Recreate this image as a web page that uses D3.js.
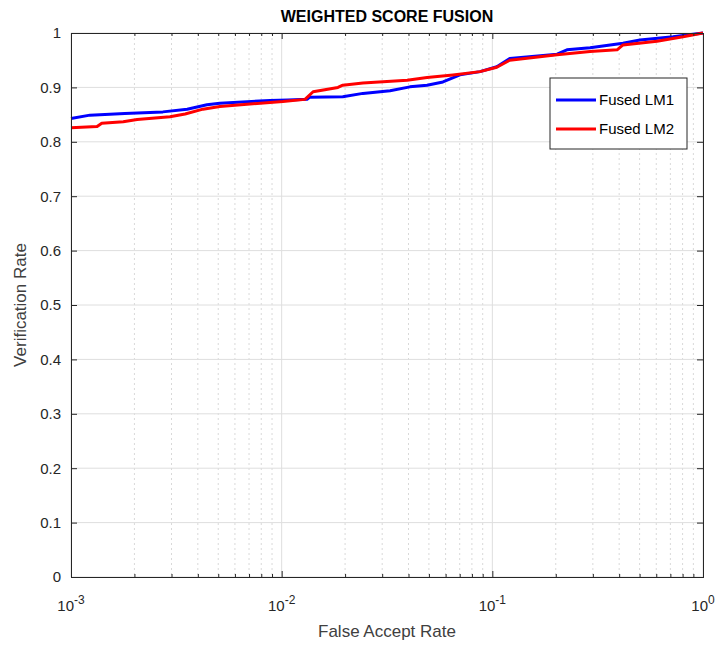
<html lang="en">
<head>
<meta charset="UTF-8">
<script src="https://d3js.org/d3.v7.min.js"></script>
<style>
    body { margin: 0; background: white; }
    text { font-family: "Liberation Sans", Arial, sans-serif; }
</style>
</head>
<body>
<div id="chart"></div>
<script>
    // FAR / verification rate
    const lm1Far  = [0.001, 0.00123, 0.0018, 0.00273, 0.00356, 0.00442, 0.00509, 0.00881, 0.0107, 0.0132, 0.0136, 0.0195, 0.0243, 0.0327, 0.0406, 0.049, 0.0583, 0.0702, 0.0874, 0.105, 0.121, 0.203, 0.226, 0.291, 0.417, 0.502, 0.721, 1.0];
    const lm1Rate = [0.843, 0.849, 0.852, 0.855, 0.860, 0.868, 0.871, 0.876, 0.877, 0.878, 0.882, 0.883, 0.889, 0.894, 0.901, 0.904, 0.910, 0.923, 0.929, 0.938, 0.953, 0.961, 0.969, 0.973, 0.981, 0.987, 0.993, 1.0];

    const lm2Far  = [0.001, 0.00133, 0.0014, 0.00177, 0.00206, 0.00295, 0.00348, 0.00423, 0.00509, 0.00731, 0.01014, 0.0129, 0.0141, 0.0185, 0.0195, 0.0243, 0.0394, 0.049, 0.065, 0.0874, 0.105, 0.121, 0.203, 0.291, 0.391, 0.417, 0.605, 0.804, 1.0];
    const lm2Rate = [0.826, 0.828, 0.834, 0.837, 0.841, 0.846, 0.851, 0.860, 0.865, 0.870, 0.874, 0.878, 0.892, 0.900, 0.904, 0.908, 0.913, 0.918, 0.923, 0.929, 0.937, 0.950, 0.960, 0.966, 0.969, 0.978, 0.985, 0.993, 1.0];

    const seriesNames = ["Fused LM1", "Fused LM2"];
    const seriesColors = ["#0000ff", "#ff0000"];
    const yTicks = [0, 0.1, 0.2, 0.3, 0.4, 0.5, 0.6, 0.7, 0.8, 0.9, 1];
    const xDecades = [-3, -2, -1, 0];

    const W = 721, H = 648;
    const m = {left: 71, right: 18, top: 33, bottom: 71};
    const iw = W - m.left - m.right, ih = H - m.top - m.bottom;

    const x = d3.scaleLog().domain([1e-3, 1]).range([0, iw]);
    const y = d3.scaleLinear().domain([0, 1]).range([ih, 0]);

    const svg = d3.select("#chart").append("svg")
        .attr("width", W).attr("height", H);
    const g = svg.append("g").attr("transform", `translate(${m.left},${m.top})`);

    // minor x positions (2..9 of each decade)
    const minor = [];
    xDecades.slice(0, -1).forEach(d => {
        for (let k = 2; k <= 9; k++) minor.push(k * Math.pow(10, d));
    });
    const major = xDecades.map(d => Math.pow(10, d));

    // grid
    g.selectAll(".mgrid").data(minor).enter().append("line")
        .attr("x1", d => x(d)).attr("x2", d => x(d))
        .attr("y1", 0).attr("y2", ih)
        .attr("stroke", "#d9d9d9").attr("stroke-dasharray", "2,3").attr("stroke-width", 1);
    g.selectAll(".xgrid").data(major).enter().append("line")
        .attr("x1", d => x(d)).attr("x2", d => x(d))
        .attr("y1", 0).attr("y2", ih)
        .attr("stroke", "#dedede").attr("stroke-width", 1);
    g.selectAll(".ygrid").data(yTicks).enter().append("line")
        .attr("x1", 0).attr("x2", iw)
        .attr("y1", d => y(d)).attr("y2", d => y(d))
        .attr("stroke", "#dedede").attr("stroke-width", 1);

    // lines
    const line = d3.line().x(d => x(d[0])).y(d => y(d[1]));
    const series = [d3.zip(lm1Far, lm1Rate), d3.zip(lm2Far, lm2Rate)];
    series.forEach((s, i) => {
        g.append("path").attr("d", line(s))
            .attr("fill", "none").attr("stroke", seriesColors[i])
            .attr("stroke-width", 3).attr("stroke-linejoin", "round");
    });

    // axes (inward ticks, box)
    const bottomAx = d3.axisBottom(x).tickValues(major).tickSize(-6).tickFormat("");
    const bottomMin = d3.axisBottom(x).tickValues(minor).tickSize(-3).tickFormat("");
    const topAx = d3.axisTop(x).tickValues(major).tickSize(-6).tickFormat("");
    const topMin = d3.axisTop(x).tickValues(minor).tickSize(-3).tickFormat("");
    const leftAx = d3.axisLeft(y).tickValues(yTicks).tickSize(-6).tickPadding(10).tickFormat(d3.format("~g"));
    const rightAx = d3.axisRight(y).tickValues(yTicks).tickSize(-6).tickFormat("");

    const axes = [
        [bottomAx, `translate(0,${ih})`], [bottomMin, `translate(0,${ih})`],
        [topAx, ""], [topMin, ""],
        [leftAx, ""], [rightAx, `translate(${iw},0)`]
    ];
    axes.forEach(([a, t]) => {
        const ag = g.append("g").attr("transform", t).call(a);
        ag.select(".domain").attr("stroke", "#262626").attr("stroke-width", 1);
        ag.selectAll(".tick line").attr("stroke", "#262626");
        ag.selectAll("text").attr("fill", "#262626").style("font-size", "15px")
            .style("font-family", "'Liberation Sans', Arial, sans-serif");
    });

    // x tick labels with superscript exponents
    xDecades.forEach(d => {
        const t = g.append("text")
            .attr("x", x(Math.pow(10, d))).attr("y", ih + 34)
            .attr("text-anchor", "middle")
            .attr("fill", "#262626").style("font-size", "15px");
        t.append("tspan").text("10");
        t.append("tspan").attr("dy", -7).style("font-size", "12px").text(d);
    });

    // labels
    svg.append("text").attr("x", m.left + iw / 2).attr("y", 22)
        .attr("text-anchor", "middle").attr("font-weight", "bold")
        .style("font-size", "16px").attr("fill", "#000").text("WEIGHTED SCORE FUSION");
    svg.append("text").attr("x", m.left + iw / 2).attr("y", 637)
        .attr("text-anchor", "middle").style("font-size", "17px")
        .attr("fill", "#404040").text("False Accept Rate");
    svg.append("text")
        .attr("transform", `translate(26,${m.top + ih / 2}) rotate(-90)`)
        .attr("text-anchor", "middle").style("font-size", "17px")
        .attr("fill", "#404040").text("Verification Rate");

    // legend
    const lg = svg.append("g").attr("transform", "translate(550,78)");
    lg.append("rect").attr("width", 137).attr("height", 71)
        .attr("fill", "white").attr("stroke", "#262626").attr("stroke-width", 1);
    seriesNames.forEach((n, i) => {
        const yy = 22 + i * 29;
        lg.append("line").attr("x1", 6).attr("x2", 46).attr("y1", yy).attr("y2", yy)
            .attr("stroke", seriesColors[i]).attr("stroke-width", 3);
        lg.append("text").attr("x", 49).attr("y", yy + 5)
            .style("font-size", "15px").attr("fill", "#000").text(n);
    });
</script>
</body>
</html>
